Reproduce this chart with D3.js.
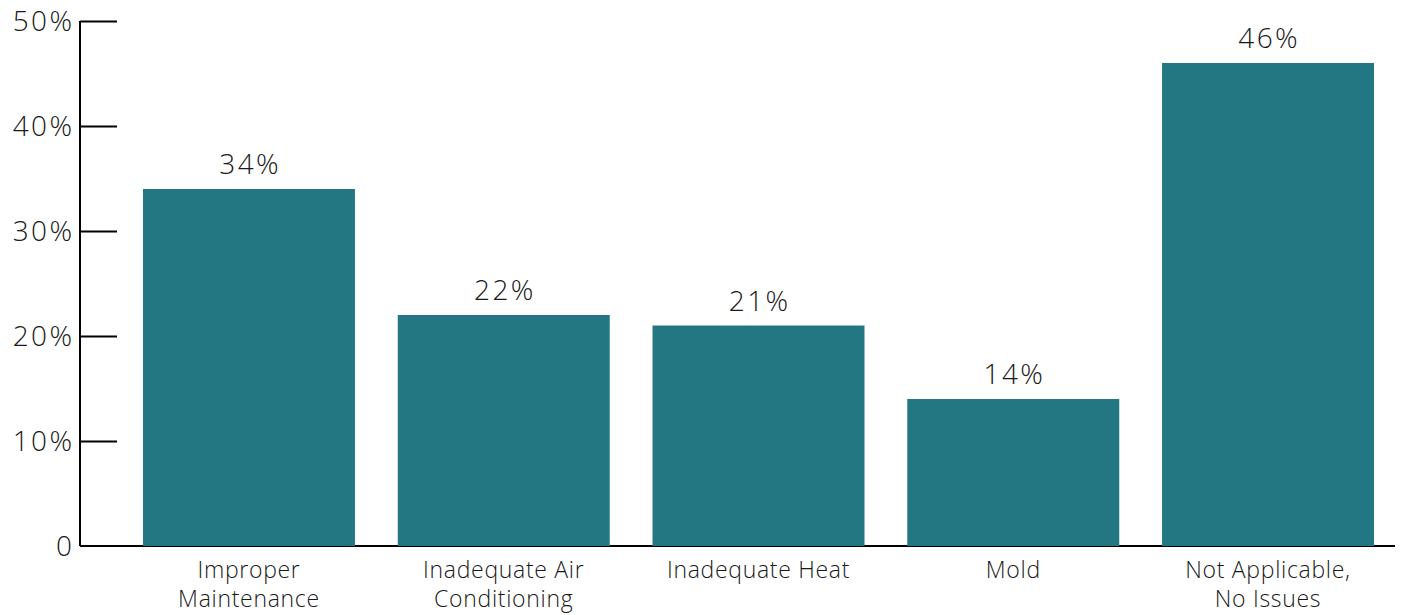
<!DOCTYPE html>
<html>
<head>
<meta charset="utf-8">
<script src="https://d3js.org/d3.v7.min.js"></script>
<style>
  body { margin: 0; background: #fff; }
  text { font-family: "Open Sans", "Lato", sans-serif; font-weight: 300; fill: #1a1a1a; }
</style>
</head>
<body>
<svg width="1401" height="615"></svg>
<script>
// chart data
var categories = ["Improper Maintenance", "Inadequate Air Conditioning", "Inadequate Heat", "Mold", "Not Applicable, No Issues"];
var labelLines = [["Improper", "Maintenance"], ["Inadequate Air", "Conditioning"], ["Inadequate Heat"], ["Mold"], ["Not Applicable,", "No Issues"]];
var values = [34, 22, 21, 14, 46];
var yTicks = [0, 10, 20, 30, 40, 50];

var svg = d3.select("svg");

var x = d3.scaleBand()
    .domain(categories)
    .range([117, 1400])
    .paddingInner(0.168)
    .paddingOuter(0.102);

var y = d3.scaleLinear()
    .domain([0, 50])
    .range([546, 21]);

// baseline
svg.append("line")
    .attr("x1", 80).attr("x2", 1395)
    .attr("y1", y(0)).attr("y2", y(0))
    .attr("stroke", "#000")
    .attr("stroke-width", 2);

// bars
svg.append("g").selectAll("rect")
    .data(values)
    .enter().append("rect")
    .attr("x", function(d, i) { return x(categories[i]); })
    .attr("width", x.bandwidth())
    .attr("y", function(d) { return y(d); })
    .attr("height", function(d) { return y(0) - y(d); })
    .attr("fill", "#227782");

// value labels
svg.append("g").selectAll("text")
    .data(values)
    .enter().append("text")
    .attr("x", function(d, i) { return x(categories[i]) + x.bandwidth() / 2 + 1.2; })
    .attr("y", function(d) { return y(d) - 15; })
    .attr("text-anchor", "middle")
    .attr("font-size", 28)
    .attr("letter-spacing", 2.4)
    .text(function(d) { return d + "%"; });

// y axis
var yAxis = svg.append("g")
    .attr("transform", "translate(80,0)")
    .call(d3.axisRight(y)
        .tickValues(yTicks)
        .tickSize(37)
        .tickFormat(function(d) { return d === 0 ? "0" : d + "%"; }));

yAxis.select(".domain")
    .attr("d", "M0," + y(50) + "V" + y(0))
    .attr("stroke", "#000")
    .attr("stroke-width", 2);
yAxis.selectAll(".tick line")
    .attr("stroke", "#000")
    .attr("stroke-width", 2)
    .filter(function(d) { return d === 0; }).remove();
yAxis.selectAll(".tick text")
    .attr("x", -5.5)
    .attr("dy", "0.34em")
    .attr("text-anchor", "end")
    .attr("font-size", 28)
    .attr("letter-spacing", 2.4)
    .attr("font-family", null)
    .attr("fill", "#1a1a1a");
yAxis.attr("font-family", null);

// category labels
var cat = svg.append("g").selectAll("text")
    .data(labelLines)
    .enter().append("text")
    .attr("text-anchor", "middle")
    .attr("font-size", 23)
    .attr("letter-spacing", 0.7)
    .attr("x", function(d, i) { return x(categories[i]) + x.bandwidth() / 2; });

cat.selectAll("tspan")
    .data(function(d) { return d; })
    .enter().append("tspan")
    .attr("x", function() { return d3.select(this.parentNode).attr("x"); })
    .attr("y", function(d, j) { return 578 + j * 29; })
    .text(function(d) { return d; });
</script>
</body>
</html>
